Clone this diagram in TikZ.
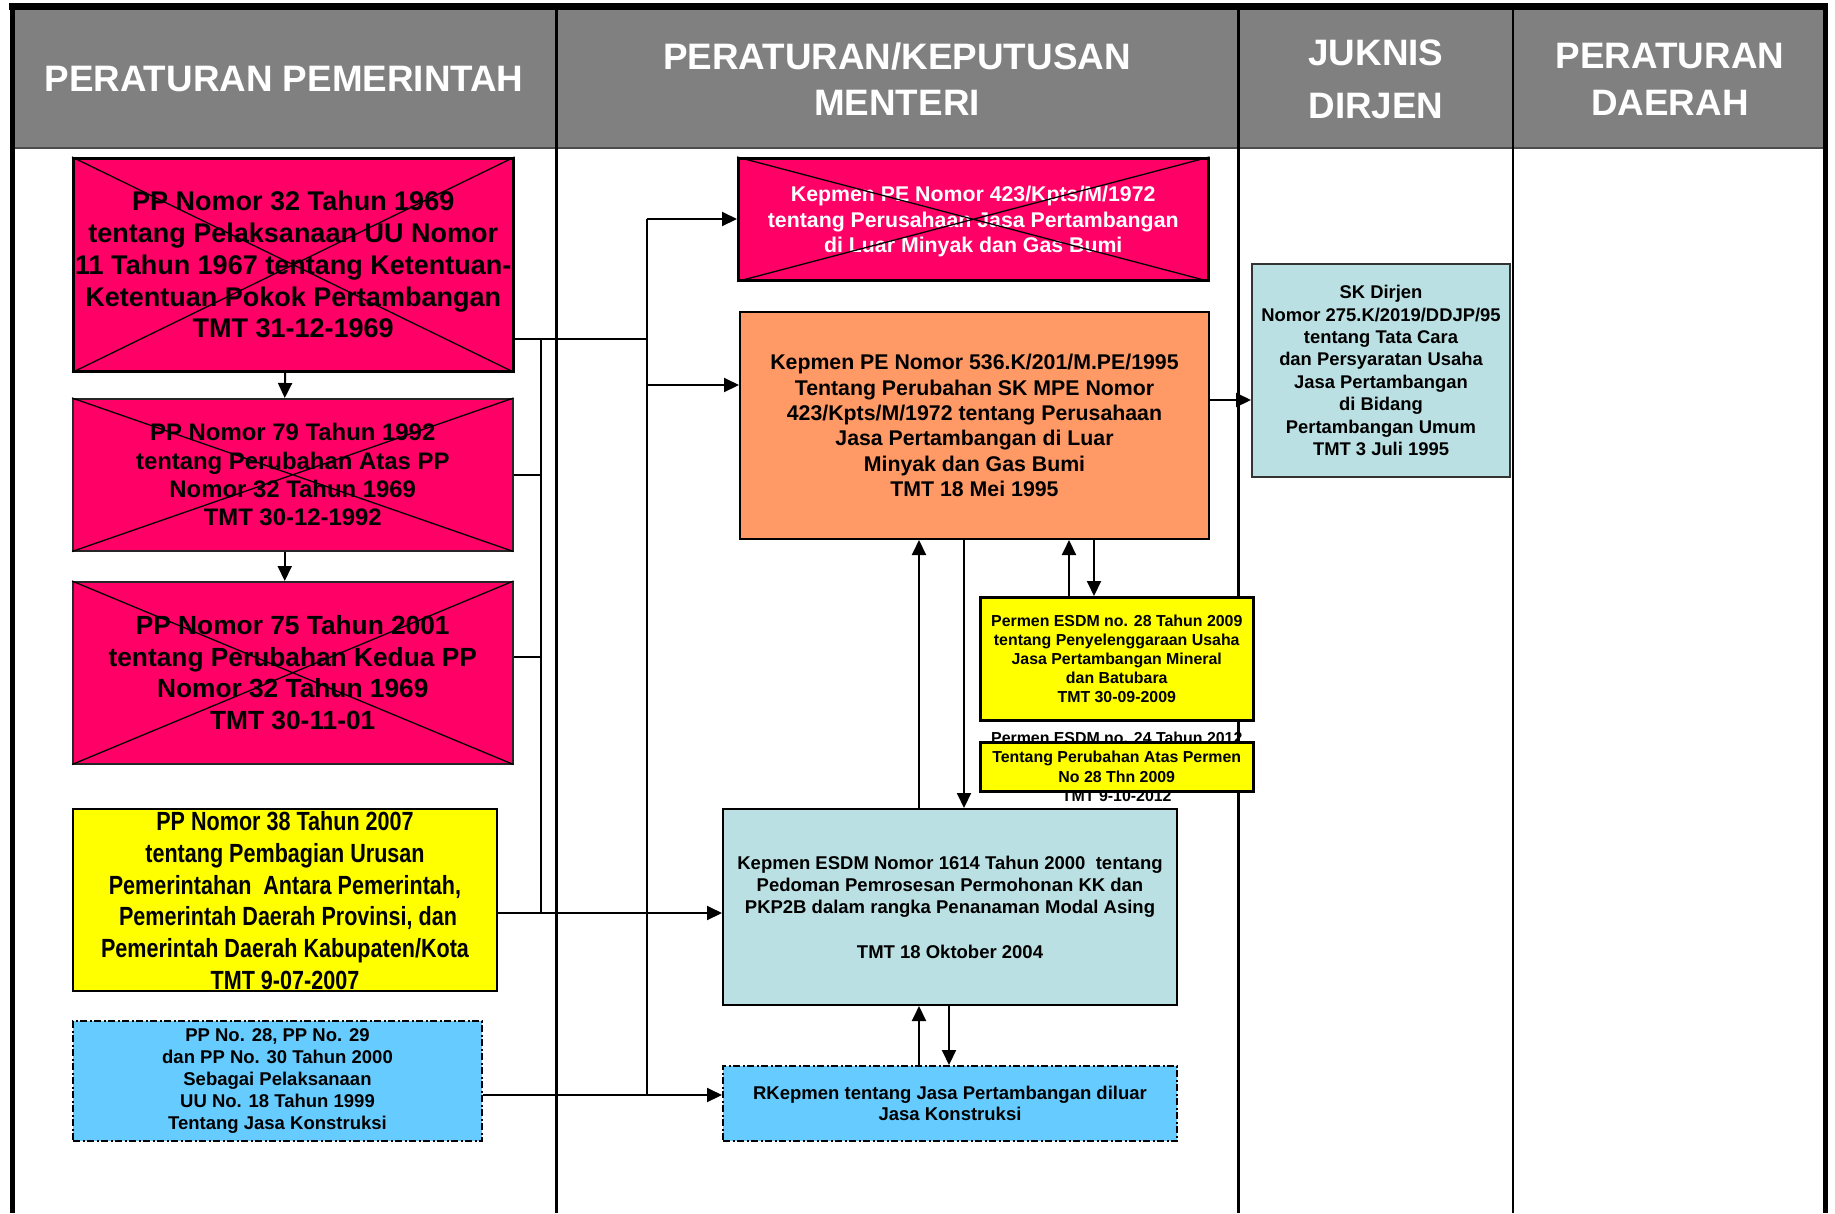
\documentclass[tikz,border=0pt]{standalone}
\usepackage{fontspec}
\setmainfont{Liberation Sans}
\newfontfamily\narrowsans[FakeStretch=0.82]{Liberation Sans}
\usetikzlibrary{arrows.meta}
\definecolor{ppink}{HTML}{FF0066}
\definecolor{porange}{HTML}{FF9966}
\definecolor{pyellow}{HTML}{FFFF00}
\definecolor{psky}{HTML}{66CCFF}
\definecolor{ppale}{HTML}{BBE0E3}
\definecolor{headgray}{HTML}{808080}
\newcommand{\setfs}[2]{\fontsize{#1}{#2}\selectfont\bfseries}
\begin{document}
\begin{tikzpicture}[x=1pt,y=-1pt,
  box/.style={draw=black, line width=2.5pt, rectangle, inner sep=0pt, anchor=north west, align=center},
  thinbox/.style={box, line width=1.5pt, draw=black!85},
  dashbox/.style={box, line width=2pt, dash pattern=on 7pt off 2.5pt on 2pt off 2.5pt},
  headtxt/.style={text=white, align=center, inner sep=0pt},
  conn/.style={line width=2pt},
  arr/.style={line width=2pt, -{Triangle[length=15pt,width=14pt]}},
  cross/.style={line width=1.3pt},
  frame/.style={line width=5pt},
  colline/.style={line width=2.5pt}]
\useasboundingbox (0,0) rectangle (1835,1213);

% ---------- header and frame ----------
\fill[headgray] (12,9) rectangle (1825,148);
\fill[black] (9,3) rectangle (1828,9.5);
\draw[line width=2.5pt, black!70] (12,148) -- (1825,148);
\draw[frame] (12.3,3) -- (12.3,1213);
\draw[frame] (1825,3) -- (1825,1213);
\draw[colline] (556.5,3) -- (556.5,1213);
\draw[colline] (1238.5,3) -- (1238.5,1213);
\draw[colline] (1513,3) -- (1513,1213);

\node[headtxt, font={\setfs{36.8}{48}}] (h1) at (284,79) {PERATURAN PEMERINTAH};
\node[headtxt, font={\setfs{36.8}{46}}] (h2) at (897,79) {PERATURAN/KEPUTUSAN\\MENTERI};
\node[headtxt, font={\setfs{36.8}{53}}] (h3) at (1376,79) {JUKNIS\\DIRJEN};
\node[headtxt, font={\setfs{36.8}{47}}] (h4) at (1670,79) {PERATURAN\\DAERAH};

% ---------- column 1 ----------
\node[box, fill=ppink, minimum width=440pt, minimum height=213pt, font={\setfs{27}{31.7}}] (A) at (72,157)
  {PP Nomor 32 Tahun 1969\\tentang Pelaksanaan UU Nomor\\11 Tahun 1967 tentang Ketentuan-\\Ketentuan Pokok Pertambangan\\TMT 31-12-1969};
\node[thinbox, fill=ppink, minimum width=440pt, minimum height=152pt, font={\setfs{23.9}{28.3}}] (B) at (72,398)
  {PP Nomor 79 Tahun 1992\\tentang Perubahan Atas PP\\Nomor 32 Tahun 1969\\TMT 30-12-1992};
\node[thinbox, fill=ppink, minimum width=440pt, minimum height=182pt, font={\setfs{26.3}{31.7}}] (C) at (72,581)
  {PP Nomor 75 Tahun 2001\\tentang Perubahan Kedua PP\\Nomor 32 Tahun 1969\\TMT 30-11-01};
\node[box, line width=2pt, fill=pyellow, minimum width=424pt, minimum height=182pt] (D) at (72,808) {};
\node[align=center, inner sep=0pt, font={\narrowsans\setfs{26.3}{31.7}}] (Dt) at ([yshift=-0.5pt]D.center)
  {PP Nomor 38 Tahun 2007\\tentang Pembagian Urusan\\Pemerintahan~~Antara Pemerintah,\\~Pemerintah Daerah Provinsi, dan\\Pemerintah Daerah Kabupaten/Kota\\TMT 9-07-2007};
\node[dashbox, fill=psky, minimum width=409pt, minimum height=120pt, font={\setfs{18.5}{22.1}}] (E) at (72,1020)
  {PP No. 28, PP No. 29\\dan PP No. 30 Tahun 2000\\Sebagai Pelaksanaan\\UU No. 18 Tahun 1999\\Tentang Jasa Konstruksi};

% ---------- column 2 ----------
\node[box, fill=ppink, minimum width=470pt, minimum height=122pt] (F) at (737,157) {};
\node[align=center, inner sep=0pt, text=white, font={\setfs{21.3}{25.7}}] (Ft) at ([yshift=-2.5pt]F.center)
  {Kepmen PE Nomor 423/Kpts/M/1972\\tentang Perusahaan Jasa Pertambangan\\di Luar Minyak dan Gas Bumi};
\node[box, line width=2pt, fill=porange, minimum width=469pt, minimum height=227pt, font={\setfs{21.3}{25.4}}] (G) at (739,311)
  {Kepmen PE Nomor 536.K/201/M.PE/1995\\Tentang Perubahan SK MPE Nomor\\423/Kpts/M/1972 tentang Perusahaan\\Jasa Pertambangan di Luar\\Minyak dan Gas Bumi\\TMT 18 Mei 1995};
\node[box, line width=2pt, fill=ppale, minimum width=454pt, minimum height=196pt, font={\setfs{18.5}{22.3}}] (H) at (722,808)
  {Kepmen ESDM Nomor 1614 Tahun 2000~~tentang\\Pedoman Pemrosesan Permohonan KK dan\\PKP2B dalam rangka Penanaman Modal Asing\\~\\TMT 18 Oktober 2004};
\node[dashbox, fill=psky, minimum width=454pt, minimum height=75pt, font={\setfs{18.5}{21.7}}] (I) at (722,1065)
  {RKepmen tentang Jasa Pertambangan diluar\\Jasa Konstruksi};
\node[box, fill=pyellow, minimum width=273pt, minimum height=123pt, font={\setfs{15.9}{19.1}}] (P28) at (979,596)
  {Permen ESDM no. 28 Tahun 2009\\tentang Penyelenggaraan Usaha\\Jasa Pertambangan Mineral\\dan Batubara\\TMT 30-09-2009};
\node[box, fill=pyellow, minimum width=273pt, minimum height=49pt] (P24) at (979,741) {};
\node[align=center, inner sep=0pt, font={\setfs{15.9}{19.3}}] (P24t) at (P24.center)
  {Permen ESDM no. 24 Tahun 2012\\Tentang Perubahan Atas Permen\\No 28 Thn 2009\\TMT 9-10-2012};

% ---------- column 3 ----------
\node[box, line width=2pt, draw=black!80, fill=ppale, minimum width=258pt, minimum height=213pt, font={\setfs{18.4}{22.4}}] (J) at (1251,263)
  {SK Dirjen\\Nomor 275.K/2019/DDJP/95\\tentang Tata Cara\\dan Persyaratan Usaha\\Jasa Pertambangan\\di Bidang\\Pertambangan Umum\\TMT 3 Juli 1995};

% ---------- crosses ----------
\foreach \n in {A,B,C,F}{
  \draw[cross] (\n.north west) -- (\n.south east) (\n.north east) -- (\n.south west);
}

% ---------- connectors ----------
\coordinate (busF) at (647,219);
\coordinate (busA) at (647,339);
\coordinate (busG) at (647,385);
\coordinate (busE) at (647,1095);
\coordinate (vTop) at (541,339);
\coordinate (jB) at (541,475);
\coordinate (jC) at (541,657);
\coordinate (vBot) at (541,913);
\coordinate (gj) at (1208,400);
\coordinate (xa) at (919,0);
\coordinate (xb) at (964,0);
\coordinate (xc) at (1069,0);
\coordinate (xd) at (1094,0);
\coordinate (xe) at (949,0);

\draw[arr] ([xshift=-8pt]A.south) -- ([xshift=-8pt]B.north);
\draw[arr] ([xshift=-8pt]B.south) -- ([xshift=-8pt]C.north);

\draw[conn] (A.east |- busA) -- (busA);
\draw[conn] (vTop) -- (vBot);
\draw[conn] (B.east |- jB) -- (jB);
\draw[conn] (C.east |- jC) -- (jC);
\draw[conn] (busF) -- (busE);
\draw[arr] (busF) -- (F.west |- busF);
\draw[arr] (busG) -- (G.west |- busG);
\draw[arr] (D.east |- vBot) -- (H.west |- vBot);
\draw[arr] (E.east |- busE) -- (I.west |- busE);
\draw[arr] (G.east |- gj) -- (J.west |- gj);

\draw[arr] (H.north -| xa) -- (G.south -| xa);
\draw[arr] (G.south -| xb) -- (H.north -| xb);
\draw[arr] (P28.north -| xc) -- (G.south -| xc);
\draw[arr] (G.south -| xd) -- (P28.north -| xd);
\draw[arr] (I.north -| xa) -- (H.south -| xa);
\draw[arr] (H.south -| xe) -- (I.north -| xe);
\end{tikzpicture}
\end{document}
